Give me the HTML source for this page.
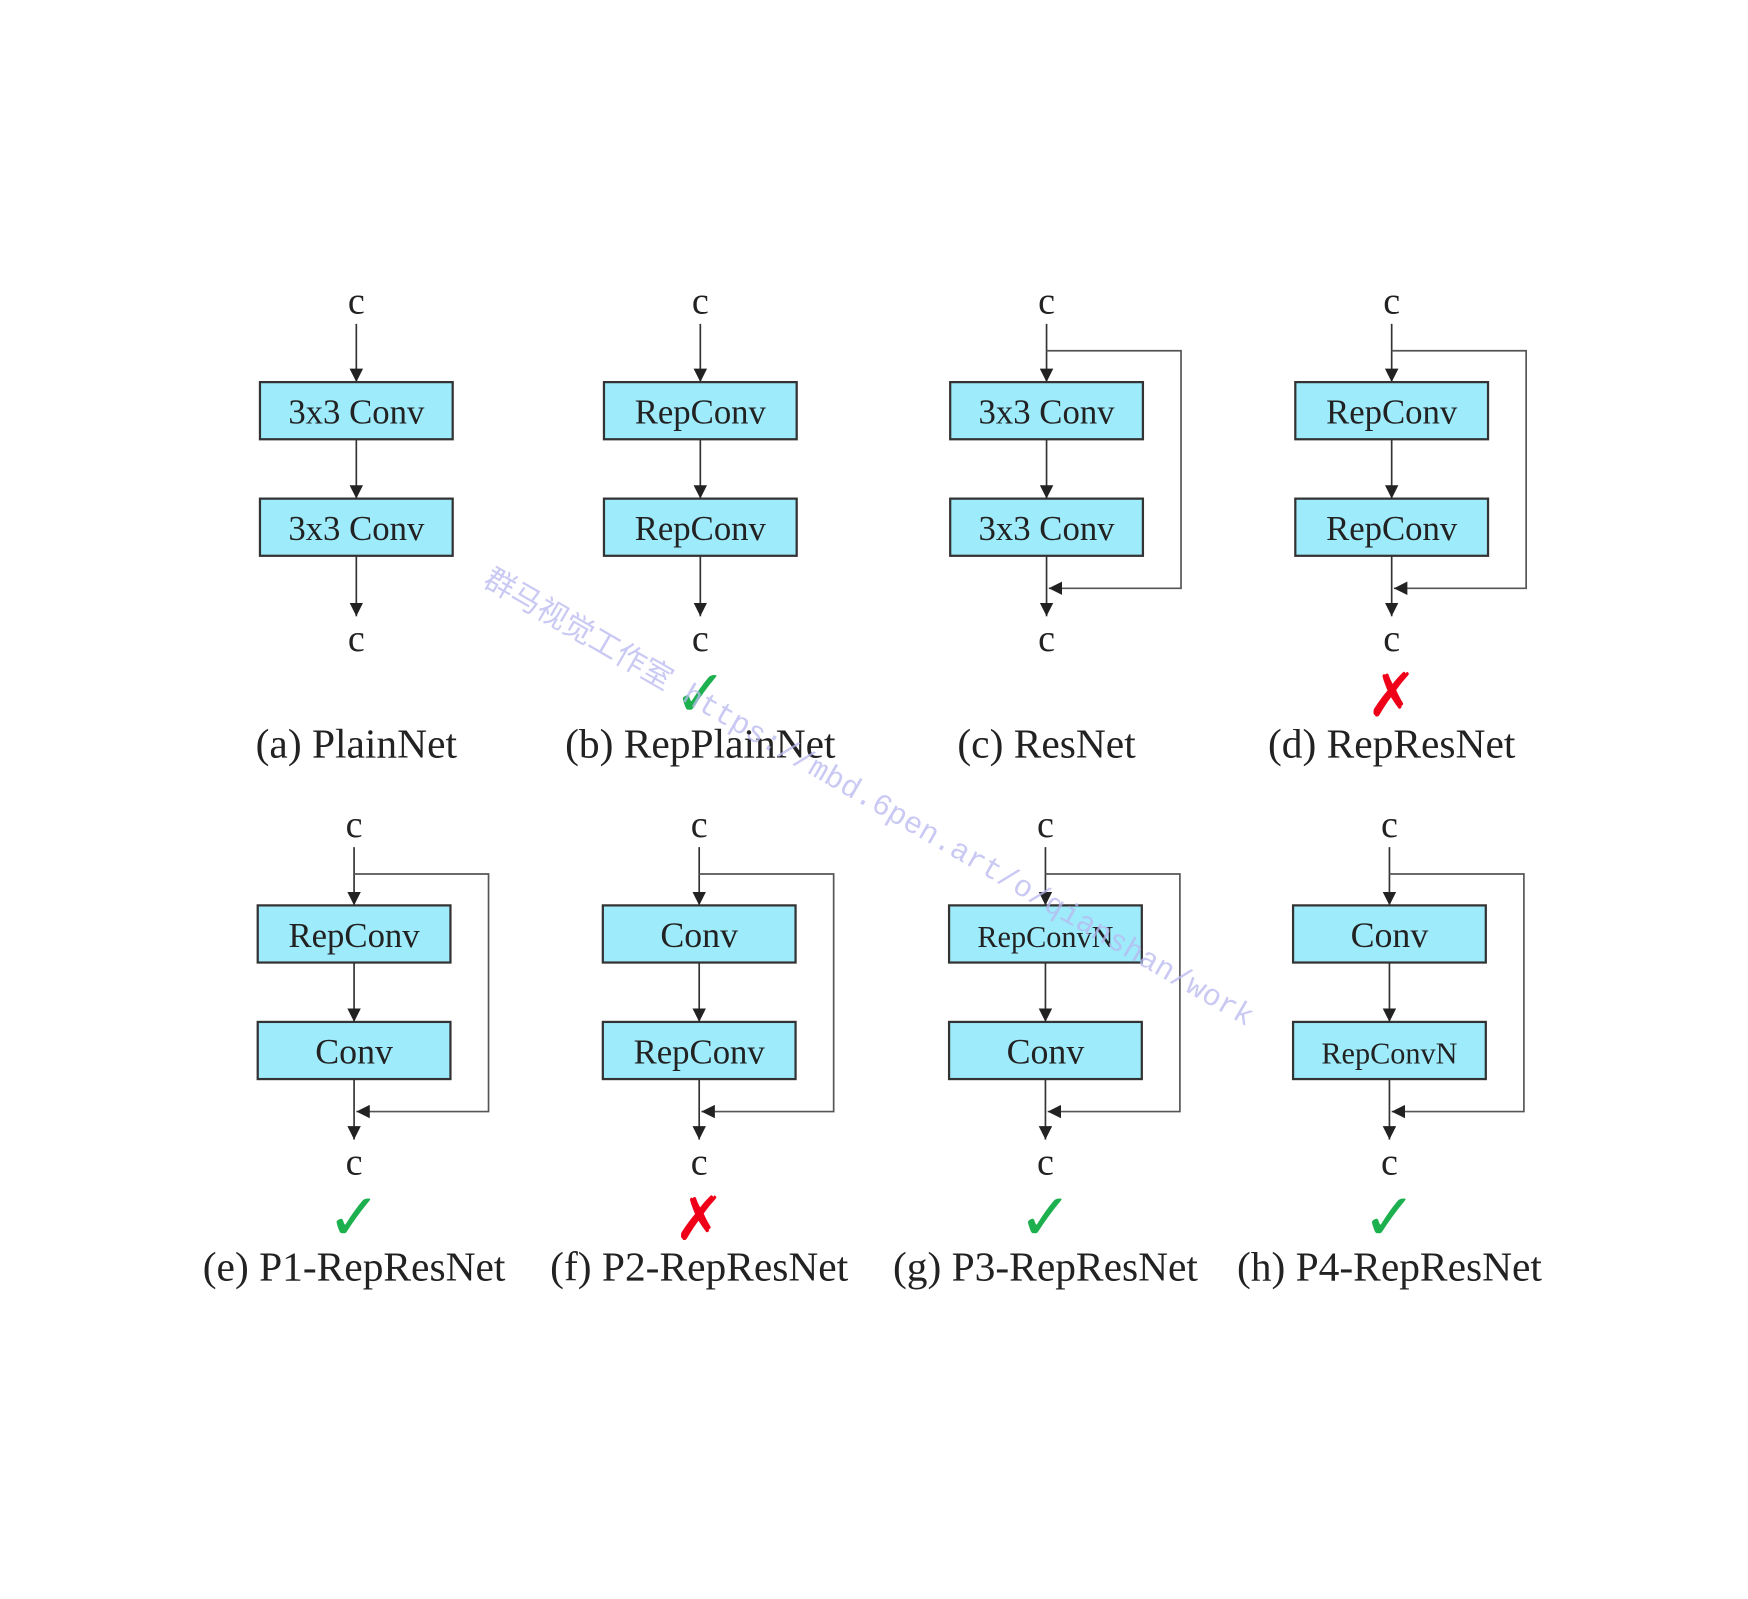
<!DOCTYPE html>
<html><head><meta charset="utf-8"><style>
html,body{margin:0;padding:0;background:#fff;}
svg{display:block;}
</style></head><body>
<svg id="fig" width="1748" height="1599" viewBox="0 0 1560 1427" xmlns="http://www.w3.org/2000/svg">
<defs>
<marker id="ah" viewBox="0 0 10 10" refX="10" refY="5" markerWidth="12" markerHeight="12" markerUnits="userSpaceOnUse" orient="auto"><path d="M0,0 L10,5 L0,10 z" fill="#222"/></marker>
</defs>
<g id="panels"></g>
<text x="430" y="522" transform="rotate(30 430 522)" font-family="'Liberation Mono','Noto Sans CJK SC',monospace" font-size="27" fill="#b8b8f0" opacity="0.75">群马视觉工作室 https://mbd.6pen.art/o/qianshan/work</text>
</svg>
<script>
const panelLabels=["(a) PlainNet","(b) RepPlainNet","(c) ResNet","(d) RepResNet","(e) P1-RepResNet","(f) P2-RepResNet","(g) P3-RepResNet","(h) P4-RepResNet"];
const topBlocks=["3x3 Conv","RepConv","3x3 Conv","RepConv","RepConv","Conv","RepConvN","Conv"];
const bottomBlocks=["3x3 Conv","RepConv","3x3 Conv","RepConv","Conv","RepConv","Conv","RepConvN"];
const hasSkip=[false,false,true,true,true,true,true,true];
const verdict=["","ok","","bad","ok","bad","ok","ok"];
const NS="http://www.w3.org/2000/svg";
const root=document.getElementById('panels');
function mk(tag,attrs,parent){const e=document.createElementNS(NS,tag);for(const k in attrs)e.setAttribute(k,attrs[k]);parent.appendChild(e);return e;}
const colX=[318,625,934,1242,316,624,933,1240];
for(let i=0;i<8;i++){
  const cx=colX[i];
  const y0=i<4?-2:465;
  const g=mk('g',{},root);
  
  
  const serif="'Liberation Serif',serif";
  let t=mk('text',{x:cx,y:y0+282,'text-anchor':'middle','font-family':serif,'font-size':34,fill:'#222'},g);t.textContent='c';
  
  let l=mk('line',{x1:cx,y1:y0+291,x2:cx,y2:y0+343,stroke:'#333','stroke-width':1.5,'marker-end':'url(#ah)'},g);
  
  const boxes=[[y0+343,topBlocks[i]],[y0+447,bottomBlocks[i]]];
  boxes.forEach((b,j)=>{
    const r=mk('rect',{x:cx-86,y:b[0],width:172,height:51,fill:'#9eebfb',stroke:'#333','stroke-width':2},g);
    
    const fs=b[1]==='RepConvN'?27:(b[1]==='Conv'&&i>=4?32:31);
    const tt=mk('text',{x:cx,y:b[0]+37,'text-anchor':'middle','font-family':serif,'font-size':fs,fill:'#222'},g);tt.textContent=b[1];
    
  });
  l=mk('line',{x1:cx,y1:y0+394,x2:cx,y2:y0+447,stroke:'#333','stroke-width':1.5,'marker-end':'url(#ah)'},g);
  
  l=mk('line',{x1:cx,y1:y0+498,x2:cx,y2:y0+552,stroke:'#333','stroke-width':1.5,'marker-end':'url(#ah)'},g);
  
  if(hasSkip[i]){
    const p=mk('path',{d:`M${cx} ${y0+315} H${cx+120} V${y0+527} H${cx+2}`,fill:'none',stroke:'#555','stroke-width':1.5,'marker-end':'url(#ah)'},g);
    
  }
  t=mk('text',{x:cx,y:y0+583,'text-anchor':'middle','font-family':serif,'font-size':34,fill:'#222'},g);t.textContent='c';
  
  if(verdict[i]==='ok'){
    t=mk('text',{x:cx,y:y0+641,'text-anchor':'middle','font-family':"'DejaVu Sans',sans-serif",'font-size':58,'font-weight':'bold',fill:'#1db04e'},g);t.textContent='✓';
    
  } else if(verdict[i]==='bad'){
    t=mk('text',{x:cx,y:y0+641,'text-anchor':'middle','font-family':"'DejaVu Sans',sans-serif",'font-size':54,'font-weight':'bold',fill:'#f00018'},g);t.textContent='✗';
    
  }
  t=mk('text',{x:cx,y:y0+678,'text-anchor':'middle','font-family':serif,'font-size':37,fill:'#222'},g);t.textContent=panelLabels[i];
  
}
</script>
</body></html>
